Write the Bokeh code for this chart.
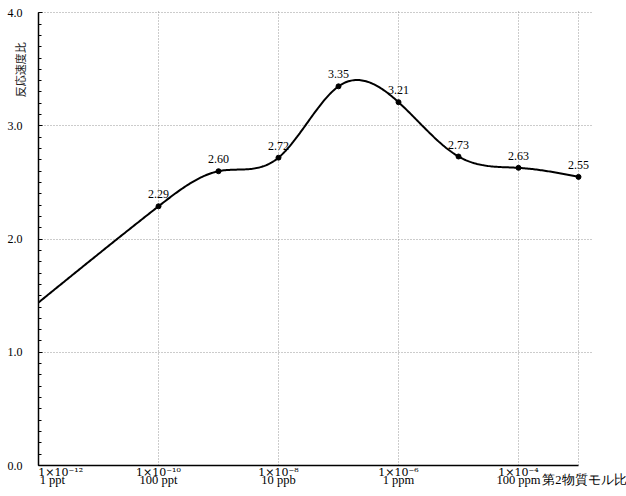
import numpy as np
from bokeh.plotting import figure
from bokeh.models import LinearAxis, FixedTicker, Label, Range1d
from bokeh.embed import file_html
from bokeh.resources import INLINE

# data: molar ratio (as power of ten) and reaction-rate ratio
ratio_exp = [-12, -10, -9, -8, -7, -6, -5, -4, -3]
rate_ratio = [1.44, 2.29, 2.60, 2.72, 3.35, 3.21, 2.73, 2.63, 2.55]
marked = [False, True, True, True, True, True, True, True, True]
value_labels = ["", "2.29", "2.60", "2.72", "3.35", "3.21", "2.73", "2.63", "2.55"]

tick_exp = [-12, -10, -8, -6, -4]
tick_sci = ["1×10⁻¹²", "1×10⁻¹⁰", "1×10⁻⁸", "1×10⁻⁶", "1×10⁻⁴"]
tick_unit = ["1 ppt", "100 ppt", "10 ppb", "1 ppm", "100 ppm"]
y_ticks = [0, 1, 2, 3, 4]
x_title = "第2物質モル比"
y_title = "反応速度比"

SERIF = "Liberation Serif"
SERIF_SUP = "DejaVu Serif"
CJK = "Noto Sans CJK JP"
X_MIN, X_MAX = -12, -3


def natural_spline(xs, ys, n=400):
    xs = np.asarray(xs, float); ys = np.asarray(ys, float)
    k = len(xs); h = np.diff(xs)
    A = np.zeros((k, k)); b = np.zeros(k)
    A[0, 0] = A[-1, -1] = 1
    for i in range(1, k - 1):
        A[i, i - 1] = h[i - 1]; A[i, i] = 2 * (h[i - 1] + h[i]); A[i, i + 1] = h[i]
        b[i] = 3 * ((ys[i + 1] - ys[i]) / h[i] - (ys[i] - ys[i - 1]) / h[i - 1])
    c = np.linalg.solve(A, b)
    xx = np.linspace(xs[0], xs[-1], n); yy = np.empty_like(xx)
    for j, x in enumerate(xx):
        i = min(np.searchsorted(xs, x, side="right") - 1, k - 2)
        bb = (ys[i + 1] - ys[i]) / h[i] - h[i] * (2 * c[i] + c[i + 1]) / 3
        d = (c[i + 1] - c[i]) / (3 * h[i]); t = x - xs[i]
        yy[j] = ys[i] + bb * t + c[i] * t ** 2 + d * t ** 3
    return xx, yy


W, H = 626, 496
p = figure(width=W, height=H, output_backend="svg", toolbar_location=None,
           x_range=Range1d(X_MIN, X_MAX + 0.25), y_range=Range1d(0, 4.02),
           min_border_left=38, min_border_right=33, min_border_top=10, min_border_bottom=31,
           background_fill_color="white", border_fill_color="white")
p.outline_line_color = None

# ---- x axes (first label nudged right of the frame edge, as in the original)
def label_positions(shift):
    return [e + (shift if e == X_MIN else 0) for e in tick_exp]

sci_pos = label_positions(0.37)
xa = p.xaxis[0]
xa.bounds = (X_MIN, X_MAX)
xa.ticker = FixedTicker(ticks=sci_pos)
xa.major_label_overrides = {e: s for e, s in zip(sci_pos, tick_sci)}
xa.axis_line_color = "black"
xa.axis_line_width = 1.5
xa.major_tick_in = 0
xa.major_tick_out = 0
xa.minor_tick_in = 0
xa.minor_tick_out = 0
xa.major_label_standoff = 0
xa.major_label_text_font = SERIF_SUP
xa.major_label_text_font_size = "11px"
xa.major_label_text_color = "black"

unit_pos = label_positions(0.23)
title_x = X_MAX + 0.13
xa2 = LinearAxis(ticker=FixedTicker(ticks=unit_pos + [title_x]),
                 major_label_overrides={**{e: s for e, s in zip(unit_pos, tick_unit)},
                                        title_x: x_title})
xa2.axis_line_color = None
xa2.major_tick_in = 0
xa2.major_tick_out = 0
xa2.minor_tick_in = 0
xa2.minor_tick_out = 0
xa2.major_label_standoff = -9
xa2.major_label_text_font = SERIF
xa2.major_label_text_font_size = "12.5px"
xa2.major_label_text_color = "black"
p.add_layout(xa2, "below")

# ---- y axis
ya = p.yaxis[0]
ya.bounds = (0, 4)
ya.ticker = FixedTicker(ticks=y_ticks, minor_ticks=list(np.round(np.arange(0, 4.01, 0.1), 2)))
ya.major_label_overrides = {t: f"{t:.1f}" for t in y_ticks}
ya.axis_line_color = "black"
ya.axis_line_width = 1.5
ya.major_tick_in = 4
ya.major_tick_out = 0
ya.minor_tick_in = 3
ya.minor_tick_out = 0
ya.major_label_standoff = 16
ya.major_label_text_font = SERIF
ya.major_label_text_font_size = "12px"
ya.major_label_text_color = "black"

# y title as an outer axis carrying a single rotated label near the top,
# pulled back into the tick-label column (it sits between 4.0 and 3.0)
title_y = 3.74
ya2 = LinearAxis(ticker=FixedTicker(ticks=[title_y]), major_label_overrides={title_y: y_title})
ya2.axis_line_color = None
ya2.major_tick_in = 0
ya2.major_tick_out = 0
ya2.minor_tick_in = 0
ya2.minor_tick_out = 0
ya2.major_label_standoff = -16
ya2.major_label_orientation = np.pi / 2
ya2.major_label_text_font = CJK
ya2.major_label_text_font_size = "11px"
ya2.major_label_text_color = "#222222"
p.add_layout(ya2, "left")

# ---- grid (dotted); the lines at 1e-3 and 4.0 form the right/top border
p.xgrid.ticker = FixedTicker(ticks=tick_exp + [X_MAX])
p.ygrid.ticker = FixedTicker(ticks=y_ticks)
p.xgrid.bounds = (0, 4)
p.ygrid.bounds = (X_MIN, X_MAX)
p.grid.grid_line_color = "#999999"
p.grid.grid_line_dash = "1 2"
p.grid.grid_line_width = 1

# ---- smooth curve through the data
cx, cy = natural_spline(ratio_exp, rate_ratio)
p.line(cx, cy, line_color="black", line_width=2)

mx = [x for x, m in zip(ratio_exp, marked) if m]
my = [y for y, m in zip(rate_ratio, marked) if m]
p.scatter(mx, my, size=5, color="black")
for x, y, m, t in zip(ratio_exp, rate_ratio, marked, value_labels):
    if m:
        p.add_layout(Label(x=x, y=y, text=t, text_align="center", text_baseline="bottom",
                           y_offset=8, text_font=SERIF, text_font_size="12px",
                           text_color="black"))

open("out.html", "w").write(file_html(p, INLINE))
